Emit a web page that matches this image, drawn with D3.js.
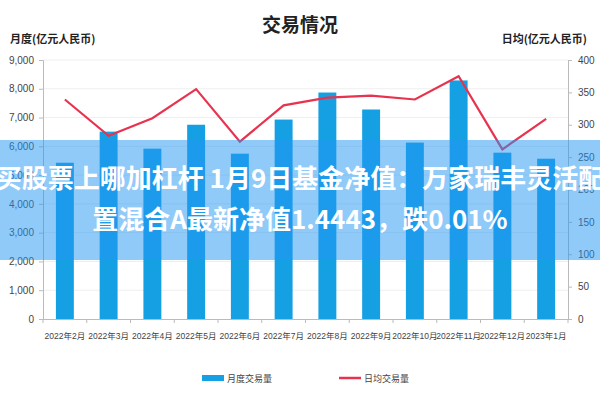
<!DOCTYPE html>
<html>
<head>
<meta charset="utf-8">
<script src="https://cdn.jsdelivr.net/npm/d3@7"></script>
<style>
body { margin: 0; background: #fff; }
svg { font-family: "Noto Sans CJK SC", "Noto Sans", sans-serif; }
</style>
</head>
<body>
<script>
// data
var months = ["2022年2月", "2022年3月", "2022年4月", "2022年5月", "2022年6月", "2022年7月",
              "2022年8月", "2022年9月", "2022年10月", "2022年11月", "2022年12月", "2023年1月"];
var monthly = [5430, 6510, 5920, 6750, 5745, 6930, 7870, 7280, 6130, 8290, 5780, 5570];
var daily = [339, 283, 310, 355, 274, 330, 342, 345, 339, 375, 262, 309];
var leftTicks = [0, 1000, 2000, 3000, 4000, 5000, 6000, 7000, 8000, 9000];
var rightTicks = [0, 50, 100, 150, 200, 250, 300, 350, 400];

var width = 600, height = 400;
var x0 = 43, x1 = 568, yTop = 60, yBot = 319;

var svg = d3.select("body").append("svg")
    .attr("width", width)
    .attr("height", height);

var x = d3.scaleBand().domain(months).range([x0, x1]).paddingInner(0.59).paddingOuter(0.295);
var xc = d3.scaleBand().domain(months).range([x0, x1]);
var yl = d3.scaleLinear().domain([0, 9000]).range([yBot, yTop]);
var yr = d3.scaleLinear().domain([0, 400]).range([yBot, yTop]);

// grid
svg.append("g").selectAll("line")
    .data(leftTicks.slice(1))
    .enter().append("line")
    .attr("x1", x0).attr("x2", x1)
    .attr("y1", function(d) { return yl(d); })
    .attr("y2", function(d) { return yl(d); })
    .attr("stroke", "#efefef");

// bars
svg.append("g").selectAll("rect")
    .data(monthly)
    .enter().append("rect")
    .attr("x", function(d, i) { return x(months[i]); })
    .attr("width", x.bandwidth())
    .attr("y", function(d) { return yl(d); })
    .attr("height", function(d) { return yBot - yl(d); })
    .attr("fill", "#16a0e4");

// line
var line = d3.line()
    .x(function(d, i) { return xc(months[i]) + xc.bandwidth() / 2; })
    .y(function(d) { return yr(d); });
svg.append("path")
    .datum(daily)
    .attr("d", line)
    .attr("fill", "none")
    .attr("stroke", "#e8334f")
    .attr("stroke-width", 2.2);

// axes
var axisColor = "#bbb";
var gl = svg.append("g").attr("transform", "translate(" + x0 + ",0)")
    .call(d3.axisLeft(yl).tickValues(leftTicks).tickSize(4).tickPadding(5).tickFormat(d3.format(",")));
var gr = svg.append("g").attr("transform", "translate(" + x1 + ",0)")
    .call(d3.axisRight(yr).tickValues(rightTicks).tickSize(4).tickPadding(6));
var gx = svg.append("g").attr("transform", "translate(0," + yBot + ")")
    .call(d3.axisBottom(xc).tickSize(0).tickPadding(14));
[gl, gr, gx].forEach(function(g) {
    g.select(".domain").attr("stroke", axisColor);
    g.selectAll(".tick line").attr("stroke", axisColor);
    g.selectAll("text").attr("fill", "#444").style("font-family", "'Liberation Sans Narrow', 'Liberation Sans', 'Noto Sans CJK SC', sans-serif");
});
gl.selectAll("text").style("font-size", "10px");
gr.selectAll("text").style("font-size", "10px");
gx.selectAll("text").style("font-size", "8.5px");

// x tick marks at band edges
svg.append("g").selectAll("line")
    .data(months.concat([null]))
    .enter().append("line")
    .attr("x1", function(d, i) { return x0 + i * xc.step(); })
    .attr("x2", function(d, i) { return x0 + i * xc.step(); })
    .attr("y1", yBot).attr("y2", yBot + 4)
    .attr("stroke", axisColor);

// titles
svg.append("text").attr("x", width / 2).attr("y", 32)
    .attr("text-anchor", "middle").attr("font-size", 19).attr("font-weight", "bold")
    .attr("fill", "#222").text("交易情况");
svg.append("text").attr("x", 10).attr("y", 43)
    .attr("font-size", 11).attr("font-weight", "bold").attr("fill", "#222").text("月度(亿元人民币)");
svg.append("text").attr("x", 587).attr("y", 43).attr("text-anchor", "end")
    .attr("font-size", 11).attr("font-weight", "bold").attr("fill", "#222").text("日均(亿元人民币)");

// legend
svg.append("rect").attr("x", 202).attr("y", 375).attr("width", 22).attr("height", 6).attr("fill", "#16a0e4");
svg.append("text").attr("x", 227).attr("y", 382).attr("font-size", 9).attr("fill", "#444").text("月度交易量");
svg.append("line").attr("x1", 339).attr("x2", 361).attr("y1", 378).attr("y2", 378)
    .attr("stroke", "#e8334f").attr("stroke-width", 2.5);
svg.append("text").attr("x", 364).attr("y", 382).attr("font-size", 9).attr("fill", "#444").text("日均交易量");

// overlay band
svg.append("rect").attr("x", 0).attr("y", 140).attr("width", width).attr("height", 120)
    .attr("fill", "rgb(33,150,243)").attr("opacity", 0.5);
var caption = ["买股票上哪加杠杆 1月9日基金净值：万家瑞丰灵活配", "置混合A最新净值1.4443，跌0.01%"];
svg.append("g").selectAll("text")
    .data(caption)
    .enter().append("text")
    .attr("x", width / 2)
    .attr("y", function(d, i) { return 188 + i * 41; })
    .attr("text-anchor", "middle")
    .attr("font-size", 26).attr("font-weight", "bold")
    .attr("fill", "#fff")
    .text(function(d) { return d; });
</script>
</body>
</html>
